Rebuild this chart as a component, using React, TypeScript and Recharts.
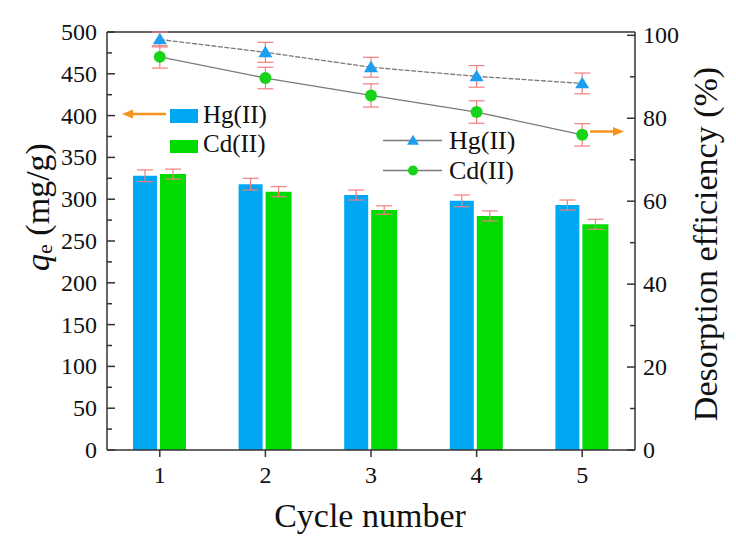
import React from 'react';
import {
  ComposedChart,
  Bar,
  Line,
  XAxis,
  YAxis,
  ErrorBar,
  Legend,
  ReferenceLine,
} from 'recharts';

// values
const cycles = ['1', '2', '3', '4', '5'];
const hgCapacity = [328, 318, 305, 298, 293];
const cdCapacity = [330, 309, 287, 280, 270];
const hgCapacityErr = [7, 7, 6, 7, 6];
const cdCapacityErr = [6, 6, 5, 6, 6];
const hgDesorption = [99.0, 95.9, 92.3, 90.1, 88.4];
const cdDesorption = [94.8, 89.7, 85.5, 81.5, 76.0];
const hgDesorptionErr = [1.8, 2.4, 2.4, 2.6, 2.5];
const cdDesorptionErr = [2.7, 2.6, 2.8, 2.7, 2.7];

const leftTicks = [0, 25, 50, 75, 100, 125, 150, 175, 200, 225, 250, 275, 300, 325, 350, 375, 400, 425, 450, 475, 500];
const rightTicks = [0, 10, 20, 30, 40, 50, 60, 70, 80, 90, 100];

const data = cycles.map((c, i) => ({
  cycle: c,
  hgCap: hgCapacity[i],
  cdCap: cdCapacity[i],
  hgCapErr: hgCapacityErr[i],
  cdCapErr: cdCapacityErr[i],
  hgDes: hgDesorption[i],
  cdDes: cdDesorption[i],
  hgDesErr: hgDesorptionErr[i],
  cdDesErr: cdDesorptionErr[i],
}));

const FONT = '"Liberation Serif", "Times New Roman", serif';
const TXT = { fontFamily: FONT };
const AXIS = '#333';
const HG_BAR = '#00A8F3';
const CD_BAR = '#00DC00';
const HG_DOT = '#1E9FEE';
const CD_DOT = '#18D418';
const ERR = '#F27F7F';
const ARROW = '#F7941D';
const LINE = '#7a7a7a';

const LeftTick = (props: any) => {
  const { x, y, payload } = props;
  const major = payload.value % 50 === 0;
  return (
    <g>
      <line x1={x} x2={x + (major ? 8 : 5)} y1={y} y2={y} stroke={AXIS} strokeWidth={1.5} />
      {major && (
        <text x={x - 10} y={y} dy={8} textAnchor="end" fontSize={24} fill="#111" style={TXT}>
          {payload.value}
        </text>
      )}
    </g>
  );
};

const RightTick = (props: any) => {
  const { x, y, payload } = props;
  const major = payload.value % 20 === 0;
  return (
    <g>
      <line x1={x} x2={x - (major ? 8 : 5)} y1={y} y2={y} stroke={AXIS} strokeWidth={1.5} />
      {major && (
        <text x={x + 8} y={y} dy={8} textAnchor="start" fontSize={24} fill="#111" style={TXT}>
          {payload.value}
        </text>
      )}
    </g>
  );
};

const BottomTick = (props: any) => {
  const { x, y, payload } = props;
  return (
    <g>
      <line x1={x} x2={x} y1={y} y2={y + 7} stroke={AXIS} strokeWidth={1.5} />
      <text x={x} y={y + 33} textAnchor="middle" fontSize={24} fill="#111" style={TXT}>
        {payload.value}
      </text>
    </g>
  );
};

const triangle = (cx: number, cy: number, s: number) =>
  `${cx},${cy - s * 0.95} ${cx - s},${cy + s * 0.7} ${cx + s},${cy + s * 0.7}`;

const HgDot = (props: any) => {
  const { cx, cy, index } = props;
  return <polygon key={`hg-${index}`} points={triangle(cx, cy, 7)} fill={HG_DOT} />;
};

const CdDot = (props: any) => {
  const { cx, cy, index } = props;
  return <circle key={`cd-${index}`} cx={cx} cy={cy} r={6} fill={CD_DOT} />;
};

const LeftTitle = (props: any) => {
  const { viewBox } = props;
  const cx = viewBox.x + 37;
  const cy = viewBox.y + viewBox.height / 2 - 34;
  return (
    <text
      x={cx}
      y={cy}
      transform={`rotate(-90, ${cx}, ${cy})`}
      textAnchor="middle"
      dominantBaseline="central"
      fontSize={34}
      fill="#111"
      style={TXT}
    >
      <tspan fontStyle="italic">q</tspan>
      <tspan fontSize={22} dy={7}>e</tspan>
      <tspan dy={-7}> (mg/g)</tspan>
    </text>
  );
};

const RightTitle = (props: any) => {
  const { viewBox } = props;
  const cx = viewBox.x + 70;
  const cy = viewBox.y + viewBox.height / 2 + 3;
  return (
    <text
      x={cx}
      y={cy}
      transform={`rotate(-90, ${cx}, ${cy})`}
      textAnchor="middle"
      dominantBaseline="central"
      fontSize={34}
      fill="#111"
      style={TXT}
    >
      Desorption efficiency (%)
    </text>
  );
};

const BottomTitle = (props: any) => {
  const { viewBox } = props;
  return (
    <text
      x={viewBox.x + viewBox.width / 2 - 1}
      y={527}
      textAnchor="middle"
      fontSize={34}
      fill="#111"
      style={TXT}
    >
      Cycle number
    </text>
  );
};

// both legend blocks plus the axis arrows, drawn over the plot
const LegendLayer = () => (
  <svg width={736} height={539} style={{ display: 'block', fontFamily: FONT }}>
    {/* bar legend */}
    <rect x={170} y={109} width={28} height={14} fill={HG_BAR} />
    <text x={203} y={123} fontSize={25} fill="#111">Hg(II)</text>
    <rect x={170} y={140} width={28} height={13} fill={CD_BAR} />
    <text x={203} y={152} fontSize={25} fill="#111">Cd(II)</text>
    {/* line legend */}
    <line x1={383} x2={442} y1={140.5} y2={140.5} stroke={LINE} strokeWidth={1.3} />
    <polygon points={triangle(413, 140.5, 6)} fill={HG_DOT} />
    <text x={449} y={149} fontSize={26} fill="#111">Hg(II)</text>
    <line x1={383} x2={442} y1={170.5} y2={170.5} stroke={LINE} strokeWidth={1.3} />
    <circle cx={413} cy={170.5} r={5} fill={CD_DOT} />
    <text x={449} y={179} fontSize={26} fill="#111">Cd(II)</text>
    {/* arrows */}
    <line x1={166} x2={130} y1={114} y2={114} stroke={ARROW} strokeWidth={2.5} />
    <polygon points="122,114 133,109.5 133,118.5" fill={ARROW} />
    <line x1={590} x2={615} y1={131.5} y2={131.5} stroke={ARROW} strokeWidth={2.5} />
    <polygon points="624,131.5 613,127 613,136" fill={ARROW} />
  </svg>
);

export default function App() {
  return (
    <div style={{ position: 'absolute', left: 0, top: 0, width: 736, height: 539, background: '#fff', fontFamily: FONT }}>
      <ComposedChart
        width={736}
        height={539}
        data={data}
        margin={{ top: 32, right: 0, bottom: 0, left: 0 }}
        barGap={3}
        style={{ fontFamily: FONT }}
      >
        <XAxis
          dataKey="cycle"
          height={89}
          interval={0}
          tickSize={0}
          tickMargin={0}
          tickLine={false}
          tick={<BottomTick />}
          axisLine={{ stroke: AXIS, strokeWidth: 1.5 }}
          label={<BottomTitle />}
        />
        <YAxis
          yAxisId="left"
          orientation="left"
          width={107}
          domain={[0, 500]}
          ticks={leftTicks}
          interval={0}
          tickSize={0}
          tickMargin={0}
          tickLine={false}
          tick={<LeftTick />}
          axisLine={{ stroke: AXIS, strokeWidth: 1.5 }}
          label={<LeftTitle />}
        />
        <YAxis
          yAxisId="right"
          orientation="right"
          width={101}
          domain={[0, 100]}
          ticks={rightTicks}
          interval={0}
          tickSize={0}
          tickMargin={0}
          tickLine={false}
          tick={<RightTick />}
          axisLine={{ stroke: AXIS, strokeWidth: 1.5 }}
          label={<RightTitle />}
        />
        <ReferenceLine yAxisId="left" y={500} stroke={AXIS} strokeWidth={1.5} ifOverflow="visible" />
        <Bar yAxisId="left" dataKey="hgCap" name="Hg(II)" fill={HG_BAR} barSize={24} isAnimationActive={false}>
          <ErrorBar dataKey="hgCapErr" width={8} stroke={ERR} strokeWidth={1.2} direction="y" />
        </Bar>
        <Bar yAxisId="left" dataKey="cdCap" name="Cd(II)" fill={CD_BAR} barSize={26} isAnimationActive={false}>
          <ErrorBar dataKey="cdCapErr" width={8} stroke={ERR} strokeWidth={1.2} direction="y" />
        </Bar>
        <Line
          yAxisId="right"
          dataKey="hgDes"
          name="Hg(II)"
          type="linear"
          stroke={LINE}
          strokeWidth={1.3}
          strokeDasharray="5 1.5"
          dot={HgDot}
          activeDot={false}
          isAnimationActive={false}
        >
          <ErrorBar dataKey="hgDesErr" width={8} stroke={ERR} strokeWidth={1.2} direction="y" />
        </Line>
        <Line
          yAxisId="right"
          dataKey="cdDes"
          name="Cd(II)"
          type="linear"
          stroke={LINE}
          strokeWidth={1.3}
          dot={CdDot}
          activeDot={false}
          isAnimationActive={false}
        >
          <ErrorBar dataKey="cdDesErr" width={8} stroke={ERR} strokeWidth={1.2} direction="y" />
        </Line>
        <Legend
          layout="vertical"
          align="center"
          verticalAlign="middle"
          content={<LegendLayer />}
          wrapperStyle={{ left: 0, top: 0, width: 736, height: 539, pointerEvents: 'none' }}
        />
      </ComposedChart>
    </div>
  );
}
